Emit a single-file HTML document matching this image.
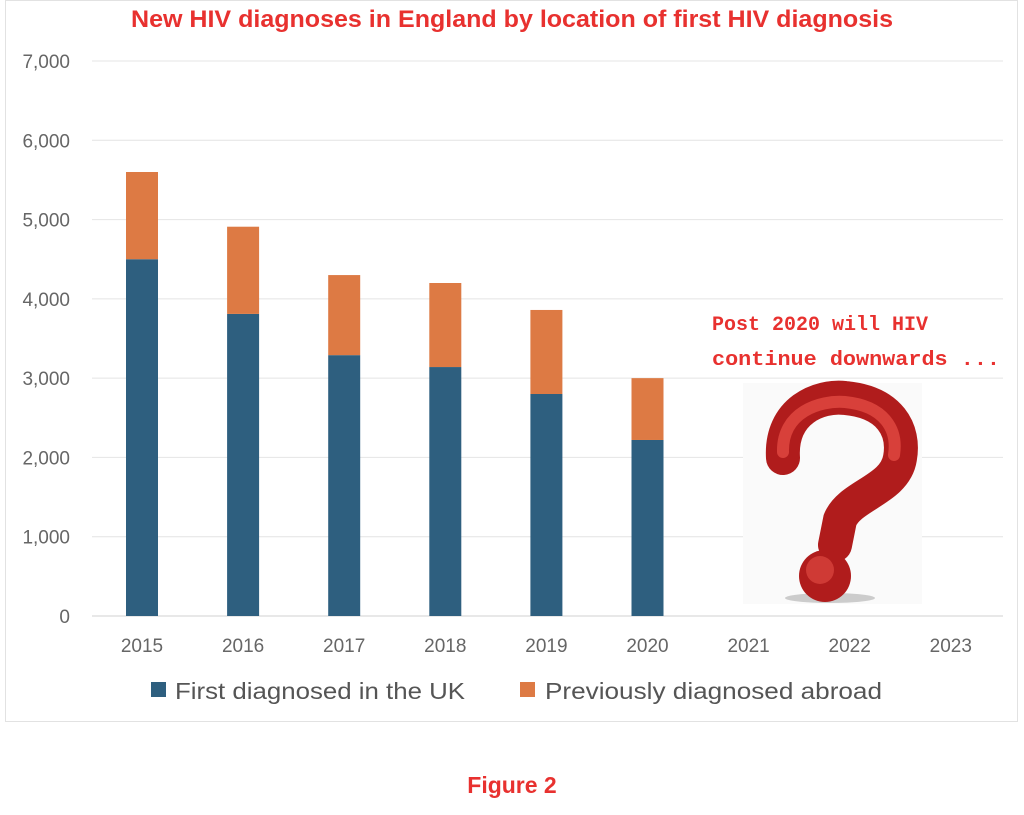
<!DOCTYPE html>
<html><head><meta charset="utf-8"><style>
body{margin:0;background:#fff;width:1024px;height:810px;overflow:hidden;font-family:"Liberation Sans",sans-serif}
</style></head><body>
<svg id="chart" width="1024" height="810" xmlns="http://www.w3.org/2000/svg">
<rect x="5.5" y="0.5" width="1012" height="721" fill="#fff" stroke="#e2e2e2"/>
<text x="512" y="27" text-anchor="middle" font-size="24" font-weight="bold" fill="#e8312f" textLength="762" lengthAdjust="spacingAndGlyphs">New HIV diagnoses in England by location of first HIV diagnosis</text>
<g id="grid"></g><g id="bars"></g><g id="xlab"></g>
<g>
<rect x="151" y="682" width="15" height="15" fill="#2e5f7f"/>
<text x="175" y="699" font-size="23" fill="#555" textLength="290" lengthAdjust="spacingAndGlyphs">First diagnosed in the UK</text>
<rect x="520" y="682" width="15" height="15" fill="#dd7a44"/>
<text x="545" y="699" font-size="23" fill="#555" textLength="337" lengthAdjust="spacingAndGlyphs">Previously diagnosed abroad</text>
</g>
<g>
<rect x="743" y="383" width="179" height="221" fill="#fafafa"/>
<ellipse cx="830" cy="598" rx="45" ry="5" fill="#ccc"/>
<path d="M783 458 C780 410 820 395 845 398 C890 402 905 430 900 458 C895 490 850 495 840 520 L835 545" fill="none" stroke="#b01c1c" stroke-width="34" stroke-linecap="round"/>
<path d="M783 452 C782 412 820 400 845 402 C885 406 898 430 894 455" fill="none" stroke="#d8403a" stroke-width="12" stroke-linecap="round"/>
<circle cx="825" cy="576" r="26" fill="#b01c1c"/>
<circle cx="820" cy="570" r="14" fill="#cf3a35"/>
</g>
<text x="712" y="330" font-family="Liberation Mono,monospace" font-weight="bold" font-size="20" fill="#e8312f" textLength="216" lengthAdjust="spacingAndGlyphs">Post 2020 will HIV</text>
<text x="712" y="365" font-family="Liberation Mono,monospace" font-weight="bold" font-size="20" fill="#e8312f" textLength="288" lengthAdjust="spacingAndGlyphs">continue downwards ...</text>
<text x="512" y="793" text-anchor="middle" font-size="23" font-weight="bold" fill="#e8312f">Figure 2</text>
</svg>
<script>
const categories=["2015","2016","2017","2018","2019","2020","2021","2022","2023"];
const ukValues=[4500,3810,3290,3140,2800,2220,null,null,null];
const abroadValues=[1100,1100,1010,1060,1060,780,null,null,null];
const yTicks=[0,1000,2000,3000,4000,5000,6000,7000];
const tickLabels=["0","1,000","2,000","3,000","4,000","5,000","6,000","7,000"];
const NS="http://www.w3.org/2000/svg";
const y=v=>616-v*(555/7000);
const x=i=>142+i*101.1;
function mk(t,a,p){const e=document.createElementNS(NS,t);for(const k in a)e.setAttribute(k,a[k]);p.appendChild(e);return e;}
const grid=document.getElementById('grid');
yTicks.forEach((v,i)=>{
 const l=mk('line',{x1:92,x2:1003,y1:y(v),y2:y(v),stroke:i==0?'#d0d0d0':'#e4e4e4','stroke-width':1},grid);
 
 
 const t=mk('text',{x:70,y:y(v)+7,'text-anchor':'end','font-size':19,fill:'#666'},grid);
 t.textContent=tickLabels[i];
 
 
});
const bars=document.getElementById('bars'),xl=document.getElementById('xlab');
categories.forEach((c,i)=>{
 const t=mk('text',{x:x(i),y:652,'text-anchor':'middle','font-size':19,fill:'#666'},xl);
 t.textContent=c;
 
 
 if(ukValues[i]==null)return;
 const u=ukValues[i],a=abroadValues[i];
 const b1=mk('rect',{x:x(i)-16,width:32,y:y(u),height:y(0)-y(u),fill:'#2e5f7f'},bars);
 
 
 const b2=mk('rect',{x:x(i)-16,width:32,y:y(u+a),height:y(u)-y(u+a),fill:'#dd7a44'},bars);
 
 
});
</script>
</body></html>
